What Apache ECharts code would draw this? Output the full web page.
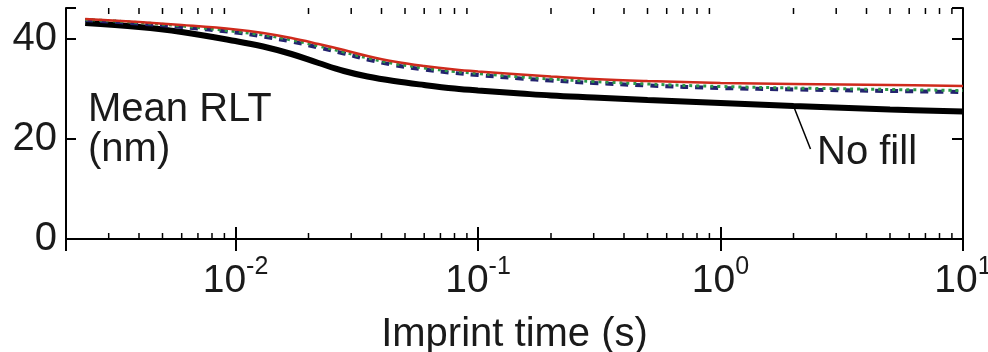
<!DOCTYPE html>
<html>
<head>
<meta charset="utf-8">
<script src="https://cdn.jsdelivr.net/npm/echarts@6/dist/echarts.min.js"></script>
<style>
  html, body { margin: 0; padding: 0; background: #fff; }
  #chart { width: 988px; height: 352px; }
</style>
</head>
<body>
<div id="chart"></div>
<script>
// Imprint time samples (s)
const imprintTime = [0.0024, 0.004, 0.006, 0.01, 0.013, 0.017, 0.022, 0.028, 0.035, 0.045,
                     0.06, 0.08, 0.1, 0.15, 0.2, 0.3, 0.5, 1, 2, 5, 10];
// Mean residual layer thickness (nm) for each fill condition
const rltNoFill = [43.2, 42.4, 41.4, 39.6, 38.5, 37.0, 35.2, 33.6, 32.5, 31.6,
                   30.8, 30.1, 29.7, 29.1, 28.7, 28.3, 27.8, 27.2, 26.6, 25.9, 25.5];
const rltBlue   = [43.8, 43.1, 42.4, 41.3, 40.5, 39.5, 38.3, 37.1, 35.9, 34.8,
                   33.9, 33.2, 32.8, 32.1, 31.7, 31.2, 30.7, 30.2, 29.9, 29.6, 29.4];
const rltGreen  = [43.9, 43.3, 42.6, 41.5, 40.8, 39.8, 38.6, 37.4, 36.2, 35.1,
                   34.2, 33.5, 33.1, 32.4, 32.0, 31.5, 31.0, 30.5, 30.2, 29.9, 29.7];
const rltRed    = [44.0, 43.4, 42.8, 41.9, 41.2, 40.2, 39.0, 37.8, 36.6, 35.5,
                   34.6, 33.9, 33.5, 32.9, 32.5, 32.0, 31.6, 31.2, 31.0, 30.8, 30.6];
// Minor tick positions on the logarithmic time axis
const minorTicks = [0.003, 0.004, 0.005, 0.006, 0.007, 0.008, 0.009,
                    0.02, 0.03, 0.04, 0.05, 0.06, 0.07, 0.08, 0.09,
                    0.2, 0.3, 0.4, 0.5, 0.6, 0.7, 0.8, 0.9,
                    2, 3, 4, 5, 6, 7, 8, 9];
const yTicks = [0, 20, 40];

const X_MIN = 0.002, X_MAX = 10;
const Y_MIN = 0, Y_MAX = 46.2;
const FONT = 'Liberation Sans';
const INK = '#1a1a1a';

function pairs(ys) { return imprintTime.map((t, i) => [t, ys[i]]); }

function decadeLabel(v) {
  const e = Math.log10(v);
  const r = Math.round(e);
  if (Math.abs(e - r) > 1e-6) return '';
  return '{b|10}{s|' + r + '}';
}

const chart = echarts.init(document.getElementById('chart'), null, { renderer: 'canvas' });

const axisLine = { show: true, lineStyle: { color: '#000', width: 2 } };

chart.setOption({
  animation: false,
  backgroundColor: '#fff',
  grid: { left: 66, right: 25, top: 8, bottom: 113, containLabel: false, outerBoundsMode: 'none' },
  xAxis: [{
    type: 'log', min: X_MIN, max: X_MAX, logBase: 10,
    position: 'bottom',
    axisLine: axisLine,
    axisTick: { show: true, inside: true, length: 12, lineStyle: { color: '#000', width: 2 } },
    splitLine: { show: false },
    axisLabel: {
      margin: 16, color: INK, fontFamily: FONT,
      formatter: decadeLabel,
      rich: {
        b: { fontSize: 39, fontFamily: FONT, color: INK, lineHeight: 52 },
        s: { fontSize: 25, fontFamily: FONT, color: INK, verticalAlign: 'top', lineHeight: 25 }
      }
    },
    name: 'Imprint time (s)', nameLocation: 'middle', nameGap: 76,
    nameTextStyle: { fontSize: 40, fontFamily: FONT, color: INK }
  }, {
    type: 'log', min: X_MIN, max: X_MAX, logBase: 10,
    position: 'top',
    axisLine: axisLine,
    axisTick: { show: true, inside: true, length: 12, lineStyle: { color: '#000', width: 2 } },
    splitLine: { show: false },
    axisLabel: { show: false }
  }],
  yAxis: [{
    type: 'value', min: Y_MIN, max: Y_MAX, interval: 20,
    position: 'left',
    axisLine: axisLine,
    axisTick: { show: true, inside: true, length: 10, lineStyle: { color: '#000', width: 2 } },
    splitLine: { show: false },
    axisLabel: {
      margin: 9, fontSize: 40, fontFamily: FONT, color: INK,
      formatter: v => (yTicks.indexOf(v) >= 0 ? String(v) : '')
    }
  }, {
    type: 'value', min: Y_MIN, max: Y_MAX, interval: 20,
    position: 'right',
    axisLine: axisLine,
    axisTick: { show: true, inside: true, length: 11, lineStyle: { color: '#000', width: 2 } },
    splitLine: { show: false },
    axisLabel: { show: false }
  }],
  graphic: [
    {
      type: 'text', left: 88, top: 90, silent: true,
      style: { text: 'Mean RLT\n(nm)', font: '40px "Liberation Sans"', fill: INK, lineHeight: 40 }
    },
    {
      type: 'text', left: 817, top: 133, silent: true,
      style: { text: 'No fill', font: '40px "Liberation Sans"', fill: INK }
    }
  ],
  series: [
    {
      name: 'minor ticks', type: 'custom', xAxisIndex: 0, yAxisIndex: 0,
      silent: true, clip: false, z: 5,
      data: minorTicks.map(v => [v, Y_MIN]),
      renderItem: function (params, api) {
        const v = api.value(0);
        const b = api.coord([v, Y_MIN]);
        const t = api.coord([v, Y_MAX]);
        const st = { stroke: '#000', lineWidth: 1.5 };
        return {
          type: 'group',
          children: [
            { type: 'line', shape: { x1: b[0], y1: b[1], x2: b[0], y2: b[1] - 6 }, style: st },
            { type: 'line', shape: { x1: t[0], y1: t[1], x2: t[0], y2: t[1] + 6 }, style: st }
          ]
        };
      }
    },
    {
      name: 'No fill', type: 'line', data: pairs(rltNoFill), smooth: 0.4,
      showSymbol: false, silent: true,
      lineStyle: { color: '#000', width: 6 },
      markLine: {
        silent: true, symbol: ['none', 'none'],
        label: { show: false },
        lineStyle: { color: '#000', width: 1.5, type: 'solid' },
        data: [[{ coord: [2.0, 26.6] }, { coord: [2.35, 18.0] }]]
      }
    },
    {
      name: 'Blue', type: 'line', data: pairs(rltBlue), smooth: 0.4,
      showSymbol: false, silent: true,
      lineStyle: { color: '#23236e', width: 4, type: [8, 7] }
    },
    {
      name: 'Green', type: 'line', data: pairs(rltGreen), smooth: 0.4,
      showSymbol: false, silent: true,
      lineStyle: { color: '#2b9a48', width: 3, type: [3, 4] }
    },
    {
      name: 'Red', type: 'line', data: pairs(rltRed), smooth: 0.4,
      showSymbol: false, silent: true,
      lineStyle: { color: '#cf2a1c', width: 2.5 }
    }
  ]
});
</script>
</body>
</html>
